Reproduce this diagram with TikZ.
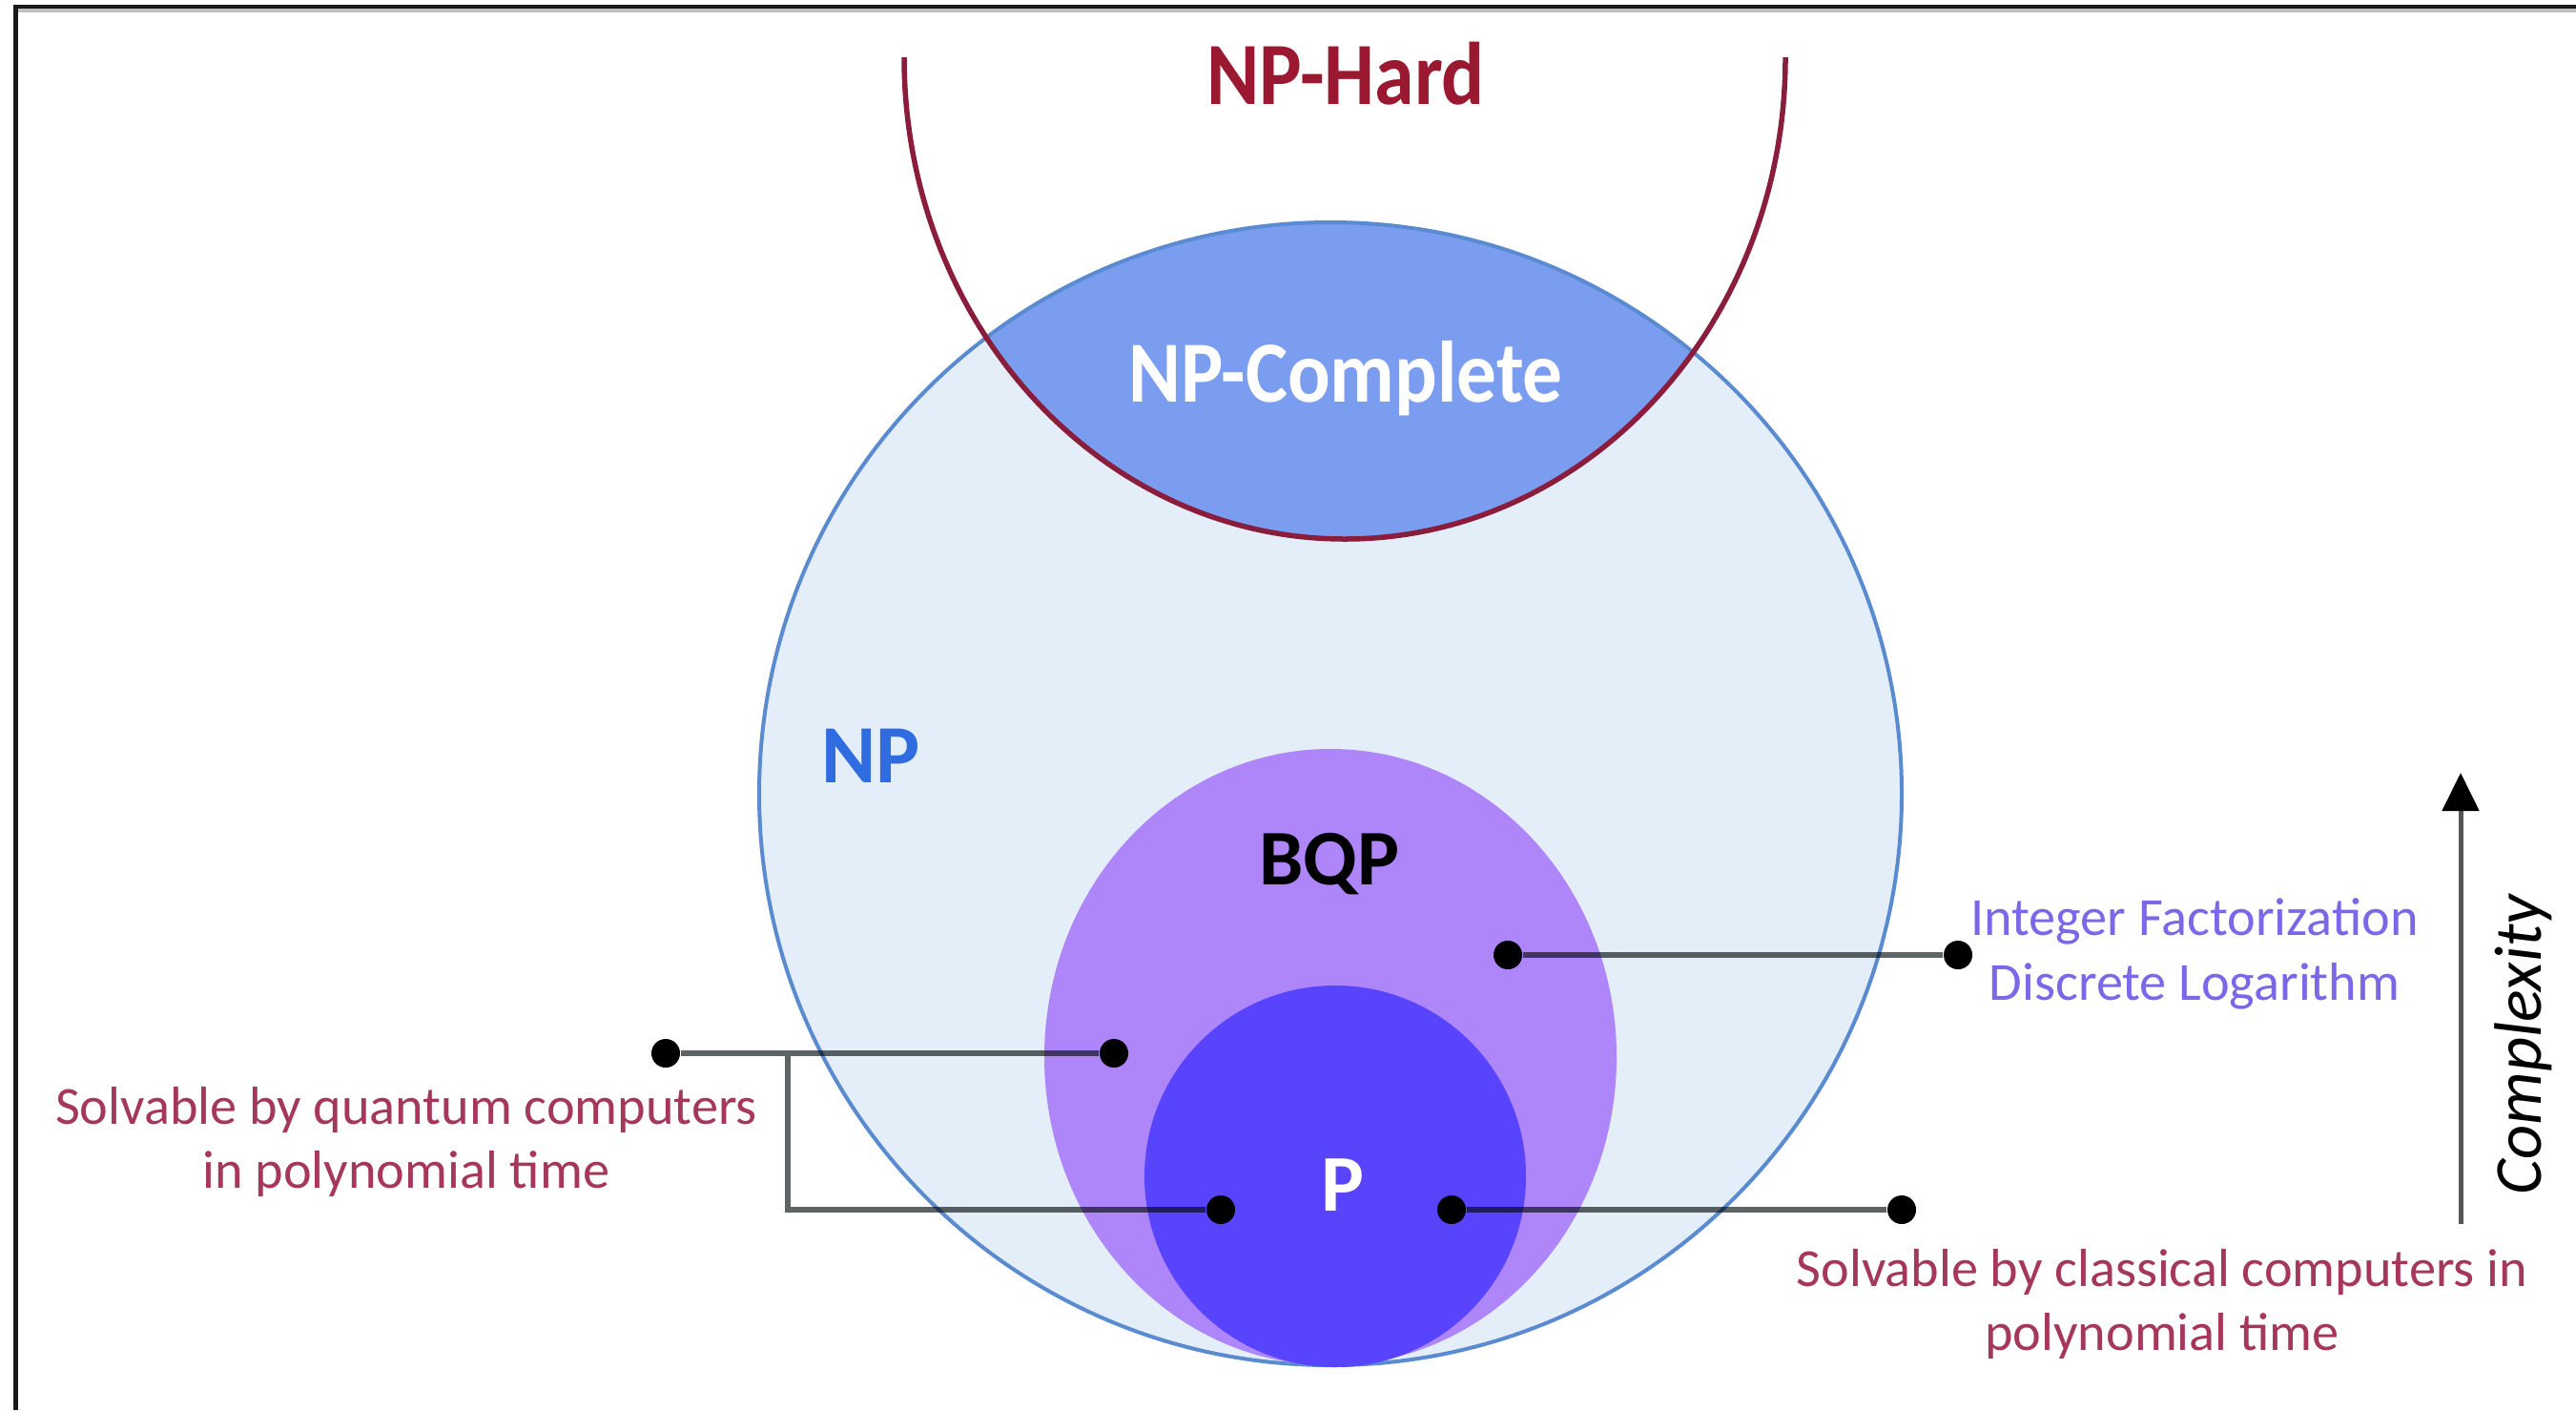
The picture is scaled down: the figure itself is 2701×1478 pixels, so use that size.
\documentclass[tikz,border=0pt]{standalone}
\usepackage{fontspec}
\usepackage{graphicx}
\setmainfont{Carlito}
\usetikzlibrary{arrows.meta}
\definecolor{npfill}{HTML}{E4EEF8}
\definecolor{npline}{HTML}{5A8AD0}
\definecolor{npcfill}{HTML}{7B9DF0}
\definecolor{hardline}{HTML}{8A1C3C}
\definecolor{hardtext}{HTML}{9A1830}
\definecolor{bqpfill}{HTML}{AE86FA}
\definecolor{pfill}{HTML}{5844FC}
\definecolor{nptext}{HTML}{2E6CE0}
\definecolor{redlabel}{HTML}{A5385A}
\definecolor{purplelabel}{HTML}{7A68E8}
\definecolor{linegray}{HTML}{5E6464}
\definecolor{axisgray}{HTML}{555555}
\begin{document}
\begin{tikzpicture}[x=0.01cm,y=0.01cm,
  setlabel/.style={inner sep=0pt, anchor=base},
  small/.style={font=\fontsize{16}{19.3}\selectfont, inner sep=0pt, align=center, anchor=center},
  dot/.style={circle, fill=black, minimum size=0.3cm, inner sep=0pt},
  conn/.style={draw=linegray, line width=0.06cm}]
\useasboundingbox (0,0) rectangle (2701,-1478);
\fill[white] (0,0) rectangle (2701,-1478);
% frame
\draw[line width=0.04cm, color=black!25] (16,-11) -- (2701,-11);
\draw[line width=0.045cm, color=black!90] (16.5,-1478) -- (16.5,-7) -- (2701,-7);
% NP circle and NP-complete region
\fill[npfill] (1395,-832) circle[radius=599];
\begin{scope}
  \clip (1395,-832) circle[radius=599];
  \fill[npcfill] (948,-60) arc[start angle=180, end angle=360, x radius=462, y radius=505] -- cycle;
\end{scope}
\draw[npline, line width=0.04cm] (1395,-832) circle[radius=599];
\draw[hardline, line width=0.055cm] (948,-60) arc[start angle=180, end angle=360, x radius=462, y radius=505];
% BQP and P
\fill[bqpfill] (1395,-1108) ellipse[x radius=300, y radius=323];
\fill[pfill] (1400,-1233) circle[radius=200];
% dots
\node[dot] (qa) at (698,-1104) {};
\node[dot] (qb) at (1168,-1104) {};
\node[dot] (qc) at (1280,-1268) {};
\coordinate (qj) at (826,-1104);
\node[dot] (ia) at (1581,-1001) {};
\node[dot] (ib) at (2053,-1001) {};
\node[dot] (ca) at (1522,-1268) {};
\node[dot] (cb) at (1994,-1268) {};
\begin{scope}[blend mode=multiply]
  \draw[conn] (qa) -- (qb) (qj) |- (qc);
  \draw[conn] (ia) -- (ib);
  \draw[conn] (ca) -- (cb);
\end{scope}
% labels
\node[setlabel, text=hardtext, font=\fontsize{26.5}{30}\selectfont\bfseries] (nphard) at (1411,-109) {\scalebox{0.9}[1]{NP-Hard}};
\node[setlabel, text=white, font=\fontsize{26}{30}\selectfont\bfseries] (npc) at (1411,-421) {\scalebox{0.91}[1]{NP-Complete}};
\node[setlabel, text=nptext, font=\fontsize{24.7}{30}\selectfont\bfseries] (np) at (913,-820) {NP};
\node[setlabel, text=black, font=\fontsize{23.5}{28}\selectfont\bfseries] (bqp) at (1394,-927) {BQP};
\node[setlabel, text=white, font=\fontsize{24}{28}\selectfont\bfseries] (p) at (1408,-1269) {P};
\node[small, text=redlabel] (quant) at (426,-1197) {Solvable by quantum computers\\in polynomial time};
\node[small, text=purplelabel] (intf) at (2301,-1000) {Integer Factorization\\Discrete Logarithm};
\node[small, text=redlabel] (class) at (2267,-1367) {Solvable by classical computers in\\polynomial time};
% complexity axis
\coordinate (cbot) at (2580,-1283);
\coordinate (ctop) at (2580,-810);
\draw[axisgray, line width=0.05cm, -{Triangle[length=0.4cm, width=0.38cm, color=black]}] (cbot) -- (ctop);
\node[inner sep=0pt, anchor=base, rotate=90, font=\fontsize{20}{24}\selectfont\itshape] (cplx) at (2664,-1095) {Complexity};
\end{tikzpicture}
\end{document}
